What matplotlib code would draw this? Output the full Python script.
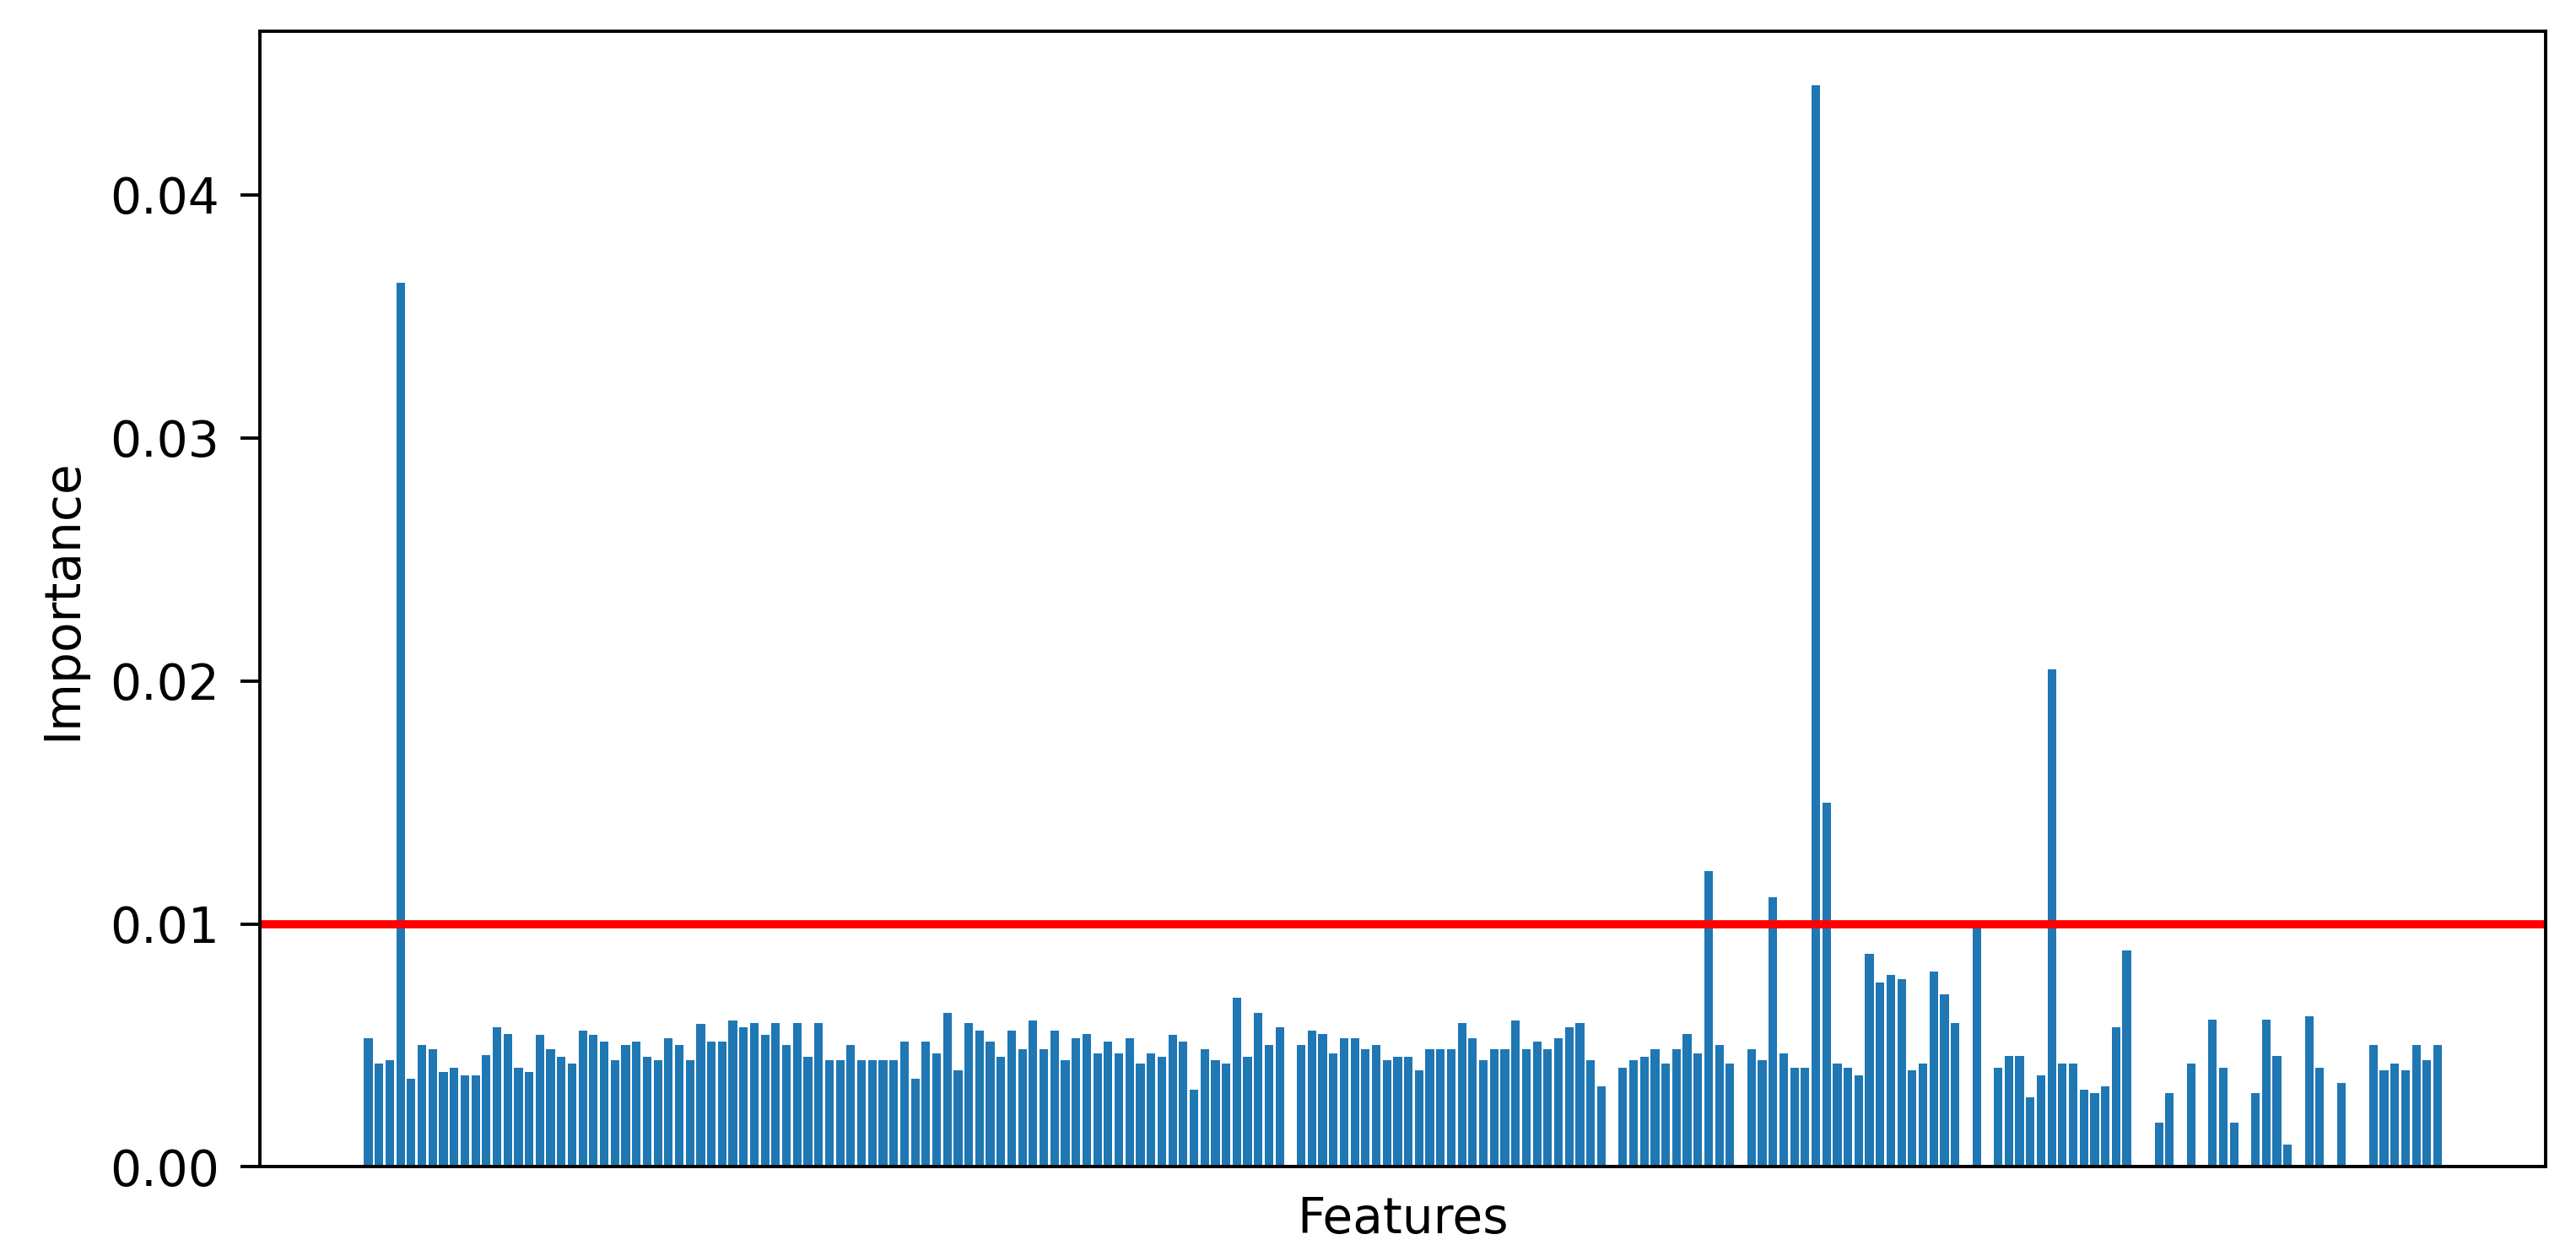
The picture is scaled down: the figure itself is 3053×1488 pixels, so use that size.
import matplotlib
matplotlib.use("Agg")
import matplotlib.pyplot as plt
import numpy as np

# feature importances (x 1e-3)
importance_e3 = [
    5.29, 4.24, 4.38, 36.4, 3.61, 5.00, 4.85, 3.92, 4.09, 3.78,
    3.78, 4.59, 5.75, 5.46, 4.07, 3.92, 5.42, 4.85, 4.53, 4.24,
    5.60, 5.42, 5.14, 4.38, 5.00, 5.14, 4.53, 4.38, 5.29, 5.00,
    4.38, 5.89, 5.14, 5.14, 6.04, 5.75, 5.92, 5.42, 5.92, 5.00,
    5.92, 4.53, 5.92, 4.38, 4.38, 5.00, 4.38, 4.38, 4.38, 4.38,
    5.14, 3.61, 5.14, 4.68, 6.35, 3.96, 5.92, 5.60, 5.14, 4.53,
    5.60, 4.85, 6.04, 4.85, 5.60, 4.38, 5.29, 5.46, 4.68, 5.14,
    4.68, 5.29, 4.24, 4.68, 4.53, 5.42, 5.14, 3.17, 4.85, 4.38,
    4.24, 6.96, 4.53, 6.35, 5.00, 5.75, 0.00, 5.00, 5.60, 5.46,
    4.68, 5.29, 5.29, 4.85, 5.00, 4.38, 4.53, 4.53, 3.96, 4.85,
    4.85, 4.85, 5.92, 5.29, 4.38, 4.85, 4.85, 6.04, 4.85, 5.14,
    4.85, 5.29, 5.75, 5.92, 4.38, 3.32, 0.00, 4.09, 4.38, 4.53,
    4.85, 4.24, 4.85, 5.46, 4.68, 12.16, 5.00, 4.24, 0.00, 4.85,
    4.38, 11.08, 4.68, 4.09, 4.09, 44.5, 15.0, 4.24, 4.09, 3.78,
    8.78, 7.60, 7.89, 7.74, 3.96, 4.24, 8.03, 7.11, 5.92, 0.00,
    9.95, 0.00, 4.09, 4.56, 4.56, 2.86, 3.78, 20.47, 4.24, 4.24,
    3.17, 3.03, 3.32, 5.75, 8.92, 0.00, 0.00, 1.82, 3.03, 0.00,
    4.24, 0.00, 6.07, 4.09, 1.82, 0.00, 3.03, 6.07, 4.56, 0.91,
    0.00, 6.21, 4.09, 0.00, 3.46, 0.00, 0.00, 5.00, 3.96, 4.24,
    3.96, 5.00, 4.38, 5.00,
]
importances = np.array(importance_e3) * 1e-3
features = np.arange(len(importances))
threshold = 0.01

S = 3.495  # scale from a 100-dpi original to this canvas

fig = plt.figure(figsize=(30.53, 14.88), dpi=100)
ax = fig.add_axes([308.3 / 3053, 1 - 1382.4 / 1488, 2709 / 3053, 1345 / 1488])

ax.bar(features, importances, color="#1f77b4")
ax.axhline(threshold, color="red", linewidth=2 * S)

ax.set_xticks([])
ax.set_yticks([0.0, 0.01, 0.02, 0.03, 0.04])
ax.tick_params(axis="y", labelsize=12 * S, length=16.6, width=0.8 * S, pad=18)
for sp in ax.spines.values():
    sp.set_linewidth(0.8 * S)

ax.set_xlabel("Features", fontsize=12 * S, labelpad=24)
ax.set_ylabel("Importance", fontsize=12 * S, labelpad=20)

fig.savefig("out.png", dpi=100)
